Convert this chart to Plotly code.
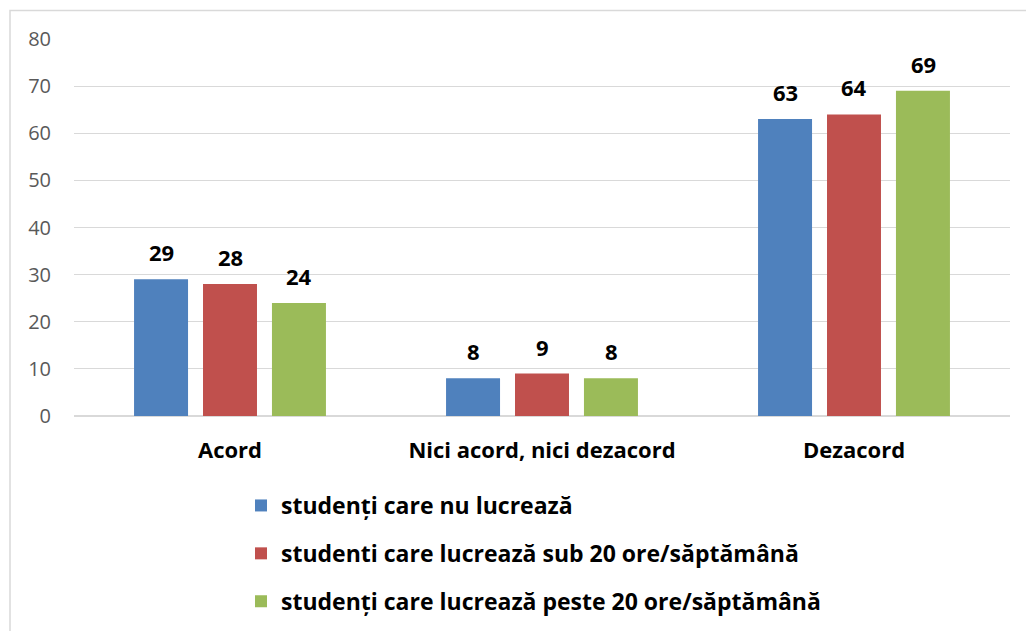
import plotly.graph_objects as go

categories = ["Acord", "Nici acord, nici dezacord", "Dezacord"]
series_names = [
    "studenți care nu lucrează",
    "studenti care lucrează sub 20 ore/săptămână",
    "studenți care lucrează peste 20 ore/săptămână",
]
values_nu = [29, 8, 63]
values_sub20 = [28, 9, 64]
values_peste20 = [24, 8, 69]
y_ticks = [0, 10, 20, 30, 40, 50, 60, 70, 80]

colors = ["#4F81BD", "#C0504D", "#9BBB59"]
all_values = [values_nu, values_sub20, values_peste20]

FONT = "Open Sans, Liberation Sans, sans-serif"

fig = go.Figure()
for i, (name, vals) in enumerate(zip(series_names, all_values)):
    fig.add_trace(go.Bar(
        x=categories, y=vals, name=name,
        marker=dict(color=colors[i], line=dict(width=0)),
        legendgroup=f"g{i}",
    ))

# data labels
slot_px = 69
for i, vals in enumerate(all_values):
    for cat, v in zip(categories, vals):
        fig.add_annotation(
            x=cat, y=v, text=f"<b>{v}</b>", showarrow=False,
            xshift=(i - 1) * slot_px, yshift=10, yanchor="bottom",
            font=dict(family=FONT, size=22, color="#000000"),
        )

# outer border
fig.add_shape(type="rect", xref="paper", yref="paper",
              x0=(10 - 74) / 936, x1=(1040 - 74) / 936,
              y0=(416 - 660) / 377, y1=(416 - 10.5) / 377,
              line=dict(color="#D9D9D9", width=1.5), fillcolor="rgba(0,0,0,0)")

fig.update_layout(
    width=1026, height=631,
    margin=dict(l=74, r=16, t=39, b=215, autoexpand=False),
    paper_bgcolor="white", plot_bgcolor="white",
    barmode="group", bargap=0.337, bargroupgap=0.217,
    font=dict(family=FONT),
    showlegend=True,
    legend=dict(
        orientation="v", x=(241 - 74) / 936, xanchor="left",
        y=(416 - 484) / 377, yanchor="top",
        font=dict(family=FONT, size=23, color="#000000", weight="bold"),
        traceorder="grouped", tracegroupgap=15,
        itemwidth=30, bgcolor="rgba(0,0,0,0)",
    ),
    xaxis=dict(
        showgrid=False, showline=False, ticks="", automargin=False,
        tickfont=dict(family=FONT, size=22, color="#000000", weight="bold"),
        ticklabelstandoff=19,
    ),
    yaxis=dict(
        range=[0, 80], tickvals=y_ticks, showgrid=True, automargin=False,
        gridcolor="#D9D9D9", gridwidth=1.3,
        zeroline=True, zerolinecolor="#D9D9D9", zerolinewidth=1.5,
        showline=False, ticks="",
        tickfont=dict(family=FONT, size=20, color="#595959"),
        ticklabelstandoff=22,
    ),
)

fig.write_html("out.html", config={"displayModeBar": False},
               post_script="document.body.style.margin='0';")
